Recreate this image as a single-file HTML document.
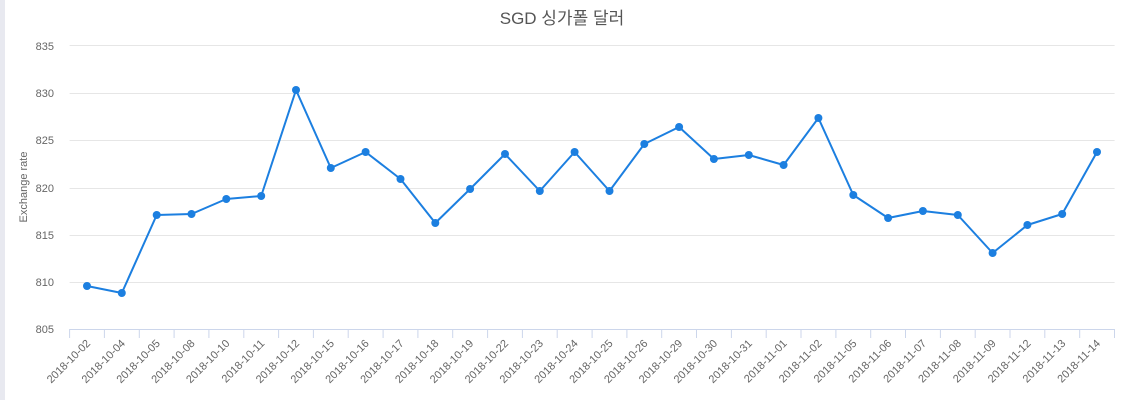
<!DOCTYPE html>
<html><head><meta charset="utf-8"><style>
html,body{margin:0;padding:0;background:#fff;width:1125px;height:400px;overflow:hidden}
svg{display:block;font-family:"Liberation Sans","Noto Sans CJK KR",sans-serif}
</style></head><body>
<svg width="1125" height="400" viewBox="0 0 1125 400">
<rect x="0" y="0" width="5" height="400" fill="#e8e9f0"/>
<text x="562" y="24" text-anchor="middle" font-size="17" fill="#555">SGD 싱가폴 달러</text>
<g stroke="#e6e6e6" stroke-width="1">
<line x1="69.6" x2="1114.6" y1="45.5" y2="45.5"/>
<line x1="69.6" x2="1114.6" y1="93.5" y2="93.5"/>
<line x1="69.6" x2="1114.6" y1="140.5" y2="140.5"/>
<line x1="69.6" x2="1114.6" y1="188.5" y2="188.5"/>
<line x1="69.6" x2="1114.6" y1="235.5" y2="235.5"/>
<line x1="69.6" x2="1114.6" y1="282.5" y2="282.5"/>
</g>
<line x1="69.6" x2="1114.6" y1="329.5" y2="329.5" stroke="#ccd6eb"/>
<g stroke="#ccd6eb">
<line x1="69.6" x2="69.6" y1="329" y2="338"/><line x1="104.4" x2="104.4" y1="329" y2="338"/><line x1="139.3" x2="139.3" y1="329" y2="338"/><line x1="174.1" x2="174.1" y1="329" y2="338"/><line x1="208.9" x2="208.9" y1="329" y2="338"/><line x1="243.8" x2="243.8" y1="329" y2="338"/><line x1="278.6" x2="278.6" y1="329" y2="338"/><line x1="313.4" x2="313.4" y1="329" y2="338"/><line x1="348.2" x2="348.2" y1="329" y2="338"/><line x1="383.1" x2="383.1" y1="329" y2="338"/><line x1="417.9" x2="417.9" y1="329" y2="338"/><line x1="452.7" x2="452.7" y1="329" y2="338"/><line x1="487.6" x2="487.6" y1="329" y2="338"/><line x1="522.4" x2="522.4" y1="329" y2="338"/><line x1="557.2" x2="557.2" y1="329" y2="338"/><line x1="592.1" x2="592.1" y1="329" y2="338"/><line x1="626.9" x2="626.9" y1="329" y2="338"/><line x1="661.7" x2="661.7" y1="329" y2="338"/><line x1="696.5" x2="696.5" y1="329" y2="338"/><line x1="731.4" x2="731.4" y1="329" y2="338"/><line x1="766.2" x2="766.2" y1="329" y2="338"/><line x1="801" x2="801" y1="329" y2="338"/><line x1="835.9" x2="835.9" y1="329" y2="338"/><line x1="870.7" x2="870.7" y1="329" y2="338"/><line x1="905.5" x2="905.5" y1="329" y2="338"/><line x1="940.4" x2="940.4" y1="329" y2="338"/><line x1="975.2" x2="975.2" y1="329" y2="338"/><line x1="1010" x2="1010" y1="329" y2="338"/><line x1="1044.8" x2="1044.8" y1="329" y2="338"/><line x1="1079.7" x2="1079.7" y1="329" y2="338"/><line x1="1114.5" x2="1114.5" y1="329" y2="338"/>
</g>
<g font-size="11" fill="#666" text-anchor="end">
<text x="54" y="50">835</text><text x="54" y="97">830</text><text x="54" y="144">825</text><text x="54" y="192">820</text><text x="54" y="239">815</text><text x="54" y="286">810</text><text x="54" y="333">805</text>
</g>
<text transform="translate(27,187) rotate(-90)" text-anchor="middle" font-size="11" fill="#666">Exchange rate</text>
<g font-size="11" fill="#666" text-anchor="end">
<text transform="translate(91,344) rotate(-45)">2018-10-02</text>
<text transform="translate(125.8,344) rotate(-45)">2018-10-04</text>
<text transform="translate(160.7,344) rotate(-45)">2018-10-05</text>
<text transform="translate(195.5,344) rotate(-45)">2018-10-08</text>
<text transform="translate(230.3,344) rotate(-45)">2018-10-10</text>
<text transform="translate(265.2,344) rotate(-45)">2018-10-11</text>
<text transform="translate(300,344) rotate(-45)">2018-10-12</text>
<text transform="translate(334.8,344) rotate(-45)">2018-10-15</text>
<text transform="translate(369.6,344) rotate(-45)">2018-10-16</text>
<text transform="translate(404.5,344) rotate(-45)">2018-10-17</text>
<text transform="translate(439.3,344) rotate(-45)">2018-10-18</text>
<text transform="translate(474.1,344) rotate(-45)">2018-10-19</text>
<text transform="translate(509,344) rotate(-45)">2018-10-22</text>
<text transform="translate(543.8,344) rotate(-45)">2018-10-23</text>
<text transform="translate(578.6,344) rotate(-45)">2018-10-24</text>
<text transform="translate(613.5,344) rotate(-45)">2018-10-25</text>
<text transform="translate(648.3,344) rotate(-45)">2018-10-26</text>
<text transform="translate(683.1,344) rotate(-45)">2018-10-29</text>
<text transform="translate(717.9,344) rotate(-45)">2018-10-30</text>
<text transform="translate(752.8,344) rotate(-45)">2018-10-31</text>
<text transform="translate(787.6,344) rotate(-45)">2018-11-01</text>
<text transform="translate(822.4,344) rotate(-45)">2018-11-02</text>
<text transform="translate(857.3,344) rotate(-45)">2018-11-05</text>
<text transform="translate(892.1,344) rotate(-45)">2018-11-06</text>
<text transform="translate(926.9,344) rotate(-45)">2018-11-07</text>
<text transform="translate(961.8,344) rotate(-45)">2018-11-08</text>
<text transform="translate(996.6,344) rotate(-45)">2018-11-09</text>
<text transform="translate(1031.4,344) rotate(-45)">2018-11-12</text>
<text transform="translate(1066.2,344) rotate(-45)">2018-11-13</text>
<text transform="translate(1101,344) rotate(-45)">2018-11-14</text>
</g>
<polyline fill="none" stroke="#1c7fe0" stroke-width="2" stroke-linejoin="round" points="87,286 121.8,293 156.7,215 191.5,214 226.3,199 261.2,196 296,90 330.8,168 365.6,152 400.5,179 435.3,223 470.1,189 505,154 539.8,191 574.6,152 609.5,191 644.3,144 679.1,127 713.9,159 748.8,155 783.6,165 818.4,118 853.3,195 888.1,218 922.9,211 957.8,215 992.6,253 1027.4,225 1062.2,214 1097,152"/>
<g fill="#1c7fe0">
<circle cx="87" cy="286" r="4"/><circle cx="121.8" cy="293" r="4"/><circle cx="156.7" cy="215" r="4"/><circle cx="191.5" cy="214" r="4"/><circle cx="226.3" cy="199" r="4"/><circle cx="261.2" cy="196" r="4"/><circle cx="296" cy="90" r="4"/><circle cx="330.8" cy="168" r="4"/><circle cx="365.6" cy="152" r="4"/><circle cx="400.5" cy="179" r="4"/><circle cx="435.3" cy="223" r="4"/><circle cx="470.1" cy="189" r="4"/><circle cx="505" cy="154" r="4"/><circle cx="539.8" cy="191" r="4"/><circle cx="574.6" cy="152" r="4"/><circle cx="609.5" cy="191" r="4"/><circle cx="644.3" cy="144" r="4"/><circle cx="679.1" cy="127" r="4"/><circle cx="713.9" cy="159" r="4"/><circle cx="748.8" cy="155" r="4"/><circle cx="783.6" cy="165" r="4"/><circle cx="818.4" cy="118" r="4"/><circle cx="853.3" cy="195" r="4"/><circle cx="888.1" cy="218" r="4"/><circle cx="922.9" cy="211" r="4"/><circle cx="957.8" cy="215" r="4"/><circle cx="992.6" cy="253" r="4"/><circle cx="1027.4" cy="225" r="4"/><circle cx="1062.2" cy="214" r="4"/><circle cx="1097" cy="152" r="4"/>
</g>
</svg>
</body></html>
